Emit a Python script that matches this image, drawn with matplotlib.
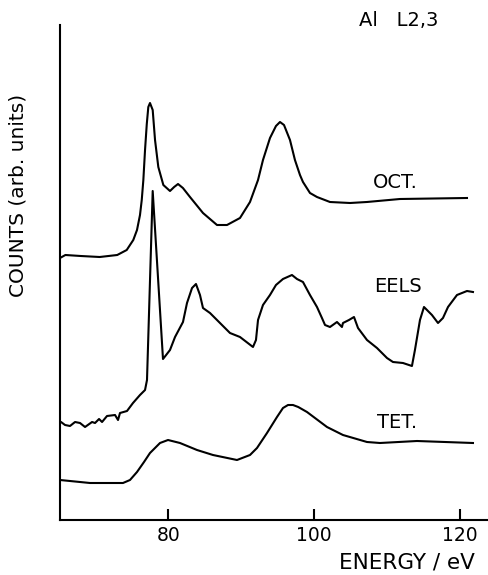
import matplotlib
matplotlib.use("Agg")
import matplotlib.pyplot as plt

# Al L2,3 edge: octahedral / EELS / tetrahedral reference spectra (arb. units)
oct_ev = [65.16, 65.9, 68.0, 70.6, 73.0, 74.3, 75.2, 75.71, 76.12, 76.36, 76.58, 76.81,
          77.05, 77.26, 77.49, 77.86, 78.18, 78.63, 79.32, 80.23, 80.8, 81.33, 82.0,
          82.97, 84.75, 86.67, 88.04, 89.82, 91.19, 92.29, 92.97, 93.93, 94.75, 95.30,
          95.85, 96.67, 97.35, 98.04, 98.45, 99.41, 100.37, 102.15, 104.9, 107.2,
          111.74, 120.92]
oct_counts = [262, 265, 264, 263, 265, 270, 280, 290, 305, 320, 340, 370,
              396, 413, 417, 410, 380, 353, 335, 329, 333, 336, 332,
              323, 307, 295, 295, 302, 318, 340, 360, 382, 394, 398,
              395, 380, 360, 345, 338, 327, 323, 318, 317, 318,
              321, 322]

eels_ev = [65.16, 65.30, 65.85, 66.53, 67.22, 67.90, 68.59, 69.55, 69.96, 70.51, 70.92,
           71.60, 72.70, 73.11, 73.38, 74.34, 75.16, 76.12, 76.81, 77.08, 77.86, 79.27,
           79.7, 80.23, 80.92, 82.01, 82.56, 83.25, 83.79, 84.34, 84.75, 85.71, 87.08,
           88.45, 89.82, 91.60, 92.01, 92.29, 92.97, 93.93, 94.75, 95.71, 96.94, 97.63,
           98.45, 99.41, 100.37, 101.05, 101.47, 102.15, 103.11, 103.79, 103.93, 104.75,
           105.44, 105.99, 107.22, 108.59, 109.96, 110.78, 112.15, 113.38, 113.79, 114.48,
           115.03, 116.12, 116.95, 117.63, 118.32, 119.55, 120.92, 121.74]
eels_counts = [98, 98, 95, 94, 98, 97, 93, 98, 97, 101, 98,
               104, 105, 100, 107, 109, 117, 125, 130, 140, 329, 161,
               165, 170, 183, 198, 217, 232, 236, 225, 212, 207, 197,
               187, 183, 173, 180, 200, 215, 225, 235, 241, 245, 241,
               238, 225, 213, 202, 195, 193, 198, 193, 197, 200,
               203, 192, 180, 172, 162, 158, 157, 154, 170, 200,
               213, 205, 197, 202, 213, 225, 229, 228]

tet_ev = [65.16, 69.27, 73.79, 74.75, 75.71, 76.67, 77.49, 78.86, 79.96, 81.60, 83.93,
          86.12, 89.41, 91.19, 92.15, 93.52, 94.89, 95.71, 96.4, 97.08, 97.8, 99.00,
          101.74, 103.93, 107.22, 109.0, 114.07, 121.74]
tet_counts = [40, 37, 37, 40, 48, 58, 67, 77, 80, 77, 70,
              65, 60, 65, 72, 87, 103, 112, 115, 115, 113, 108,
              93, 85, 78, 77, 79, 77]

xticks = [80, 100, 120]

fig = plt.figure(figsize=(4.88, 5.75), dpi=100)
ax = fig.add_axes([60 / 488, 55 / 575, 428 / 488, 495 / 575])

for ev, counts in [(oct_ev, oct_counts), (eels_ev, eels_counts), (tet_ev, tet_counts)]:
    ax.plot(ev, counts, color="black", lw=1.5, solid_joinstyle="round")

ax.set_xlim(65.16, 123.8)
ax.set_ylim(0, 495)
ax.set_xticks(xticks)
ax.set_xticklabels([str(t) for t in xticks], fontsize=13.5)
ax.set_yticks([])
ax.tick_params(axis="x", direction="in", length=8, width=1.5, pad=4)
for side in ["top", "right"]:
    ax.spines[side].set_visible(False)
for side in ["left", "bottom"]:
    ax.spines[side].set_linewidth(1.5)

ax.text(111.05, 338, "OCT.", fontsize=14, ha="center", va="center")
ax.text(111.46, 233, "EELS", fontsize=14, ha="center", va="center")
ax.text(111.33, 97, "TET.", fontsize=14, ha="center", va="center")
ax.text(111.6, 500, "Al   L2,3", fontsize=14, ha="center", va="center")

fig.text(407 / 488, 1 - 563 / 575, "ENERGY / eV", fontsize=15.5, ha="center", va="center")
fig.text(18 / 488, 1 - 195 / 575, "COUNTS (arb. units)", fontsize=14.5,
         rotation=90, ha="center", va="center")

fig.savefig("out.png", dpi=100)
